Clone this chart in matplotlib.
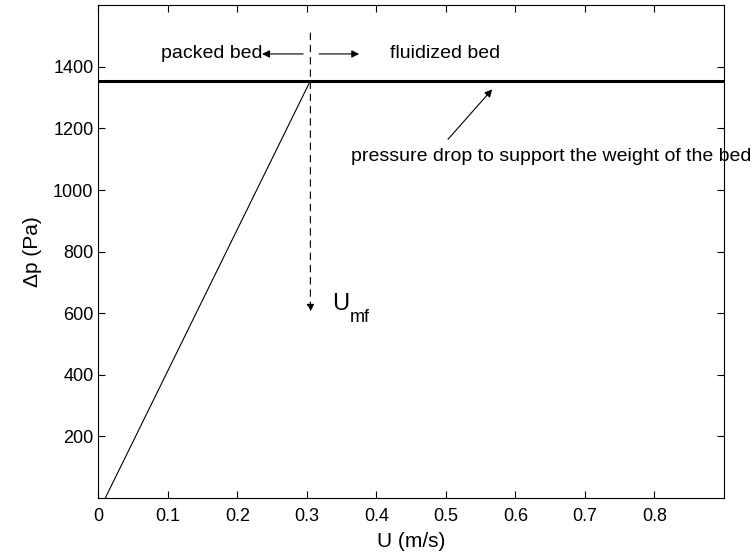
import matplotlib.pyplot as plt

plt.rcParams['font.family'] = ['Liberation Sans', 'DejaVu Sans']

# packed bed: pressure drop rises linearly with U
u_packed = [0.01, 0.305]
dp_packed = [0, 1355]
# fluidized bed: constant pressure drop = weight of bed
u_fluid = [0, 0.9]
dp_fluid = [1355, 1355]
u_mf = 0.305
xticks = [0, 0.1, 0.2, 0.3, 0.4, 0.5, 0.6, 0.7, 0.8]
yticks = [200, 400, 600, 800, 1000, 1200, 1400]

fig = plt.figure(figsize=(7.53, 5.58), dpi=100)
ax = fig.add_axes([0.1306, 0.1075, 0.8309, 0.883])

ax.plot(u_packed, dp_packed, color='black', lw=0.8)
ax.plot(u_fluid, dp_fluid, color='black', lw=2.2)

arrow = dict(arrowstyle='-|>', lw=0.8, color='black', mutation_scale=11,
             shrinkA=0, shrinkB=0)

# dashed arrow down to U_mf
ax.annotate('', xy=(u_mf, 605), xytext=(u_mf, 1510),
            arrowprops=dict(arrow, ls=(0, (6, 5))))
ax.text(0.336, 630, 'U', fontsize=17, va='center', ha='left')
ax.text(0.361, 585, 'mf', fontsize=13, va='center', ha='left')

# packed / fluidized labels with arrows
ax.annotate('', xy=(0.2355, 1442), xytext=(0.2946, 1442), arrowprops=arrow)
ax.annotate('', xy=(0.3752, 1442), xytext=(0.3176, 1442), arrowprops=arrow)
ax.text(0.236, 1442, 'packed bed', fontsize=14, ha='right', va='center')
ax.text(0.419, 1442, 'fluidized bed', fontsize=14, ha='left', va='center')

# weight of bed annotation
ax.annotate('', xy=(0.5665, 1327), xytext=(0.503, 1165), arrowprops=arrow)
ax.text(0.651, 1110, 'pressure drop to support the weight of the bed',
        fontsize=14, ha='center', va='center', clip_on=False)

ax.set_xlim(0, 0.9)
ax.set_ylim(0, 1600)
ax.set_xticks(xticks)
ax.set_xticklabels(['0', '0.1', '0.2', '0.3', '0.4', '0.5', '0.6', '0.7', '0.8'])
ax.set_yticks(yticks)
ax.tick_params(direction='in', top=True, right=True, labelsize=13, length=5)
ax.tick_params(axis='x', pad=7)
ax.set_xlabel('U (m/s)', fontsize=15, labelpad=5)
ax.set_ylabel('Δp (Pa)', fontsize=15, labelpad=8)

fig.savefig('out.png', dpi=100)
